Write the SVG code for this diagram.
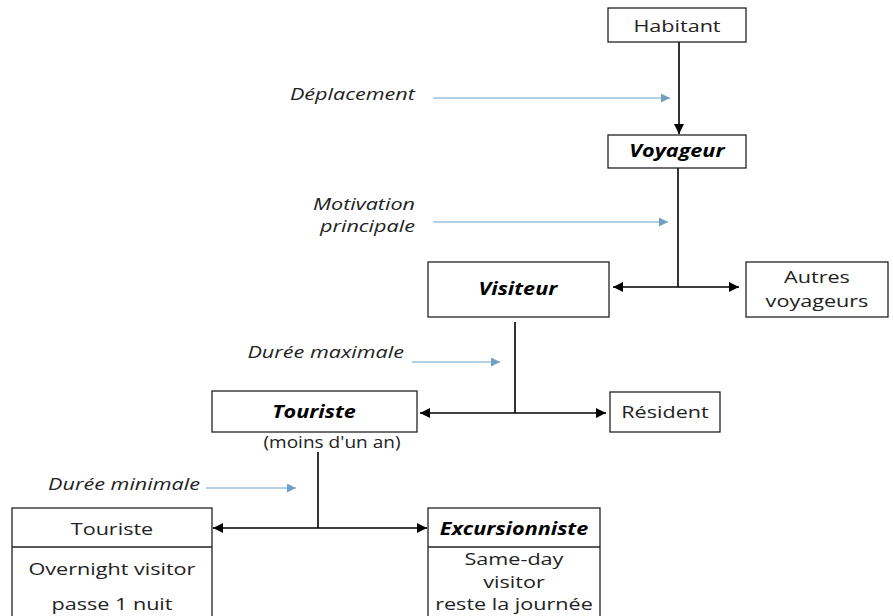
<svg xmlns="http://www.w3.org/2000/svg" width="893" height="616" viewBox="0 0 893 616">
  <defs>
    <marker id="ah" viewBox="0 0 10 10" refX="10" refY="5" markerWidth="10" markerHeight="10" markerUnits="userSpaceOnUse" orient="auto-start-reverse">
      <path d="M0,0 L10,5 L0,10 z" fill="#000"/>
    </marker>
    <marker id="ahb" viewBox="0 0 10 10" refX="10" refY="5" markerWidth="11" markerHeight="9" markerUnits="userSpaceOnUse" orient="auto">
      <path d="M0,0 L10,5 L0,10 z" fill="#6f9fc4"/>
    </marker>
  </defs>
  <style>
    .box { fill: #fff; stroke: #222; stroke-width: 1.3; }
    text { font-family: "Open Sans", "Liberation Sans", sans-serif; font-size: 17px; fill: #222;
           transform-box: fill-box; transform: scaleX(1.27); }
    .t { text-anchor: middle; transform-origin: 50% 50%; }
    .bi { font-weight: bold; font-style: italic; fill: #000; }
    .lab { font-style: italic; text-anchor: end; transform-origin: 100% 50%; }
    .note { transform: scaleX(1.12); }
    .ln { fill: none; stroke: #000; stroke-width: 1.6; }
    .bl { fill: none; stroke: #6f9fc4; stroke-width: 1.2; }
  </style>

  <rect width="893" height="616" fill="#fff"/>

  <g id="connectors">
    <!-- main chain -->
    <line class="ln" x1="679" y1="42" x2="679" y2="134" marker-end="url(#ah)"/>
    <line class="ln" x1="678" y1="168" x2="678" y2="287"/>
    <line class="ln" x1="613" y1="287" x2="739" y2="287" marker-start="url(#ah)" marker-end="url(#ah)"/>
    <line class="ln" x1="515" y1="322" x2="515" y2="413"/>
    <line class="ln" x1="420" y1="413" x2="606" y2="413" marker-start="url(#ah)" marker-end="url(#ah)"/>
    <line class="ln" x1="318" y1="452" x2="318" y2="528"/>
    <line class="ln" x1="213" y1="528" x2="427" y2="528" marker-start="url(#ah)" marker-end="url(#ah)"/>
    <!-- criteria arrows -->
    <line class="bl" x1="433" y1="98" x2="670" y2="98" marker-end="url(#ahb)"/>
    <line class="bl" x1="433" y1="222" x2="668" y2="222" marker-end="url(#ahb)"/>
    <line class="bl" x1="412" y1="362" x2="500" y2="362" marker-end="url(#ahb)"/>
    <line class="bl" x1="206" y1="488" x2="296" y2="488" marker-end="url(#ahb)"/>
  </g>

  <g id="labels">
    <text class="lab" x="415" y="100">Déplacement</text>
    <text class="lab" x="415" y="210">Motivation</text>
    <text class="lab" x="415" y="232">principale</text>
    <text class="lab" x="404" y="358">Durée maximale</text>
    <text class="lab" x="200" y="490">Durée minimale</text>
  </g>

  <g id="habitant">
    <rect class="box" x="608" y="8" width="138" height="34"/>
    <text class="t" x="677" y="32">Habitant</text>
  </g>

  <g id="voyageur">
    <rect class="box" x="608" y="135" width="138" height="33"/>
    <text class="t bi" x="677" y="157">Voyageur</text>
  </g>

  <g id="visiteur">
    <rect class="box" x="428" y="262" width="181" height="55"/>
    <text class="t bi" x="518" y="295">Visiteur</text>
  </g>

  <g id="autres">
    <rect class="box" x="746" y="262" width="142" height="55"/>
    <text class="t" x="817" y="283">Autres</text>
    <text class="t" x="817" y="307">voyageurs</text>
  </g>

  <g id="touriste">
    <rect class="box" x="212" y="391" width="205" height="41"/>
    <text class="t bi" x="314" y="418">Touriste</text>
    <text class="t note" x="332" y="448">(moins d'un an)</text>
  </g>

  <g id="resident">
    <rect class="box" x="610" y="392" width="110" height="40"/>
    <text class="t" x="665" y="418">Résident</text>
  </g>

  <g id="touriste-nuit">
    <rect class="box" x="12" y="508" width="200" height="112"/>
    <line class="box" x1="12" y1="547" x2="212" y2="547"/>
    <text class="t" x="112" y="535">Touriste</text>
    <text class="t" x="112" y="575">Overnight visitor</text>
    <text class="t" x="112" y="610">passe 1 nuit</text>
  </g>

  <g id="excursionniste">
    <rect class="box" x="428" y="508" width="172" height="112"/>
    <line class="box" x1="428" y1="547" x2="600" y2="547"/>
    <text class="t bi" x="514" y="535">Excursionniste</text>
    <text class="t" x="514" y="565">Same-day</text>
    <text class="t" x="514" y="588">visitor</text>
    <text class="t" x="514" y="610">reste la journée</text>
  </g>
</svg>
